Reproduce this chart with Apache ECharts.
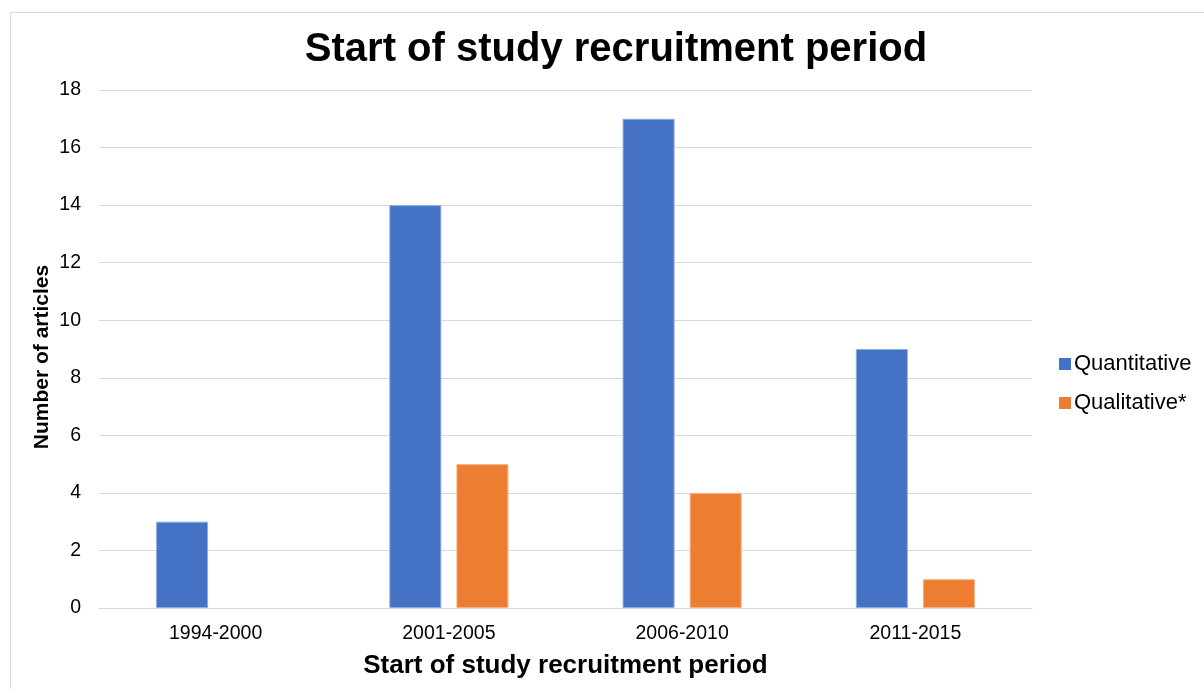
<!DOCTYPE html>
<html>
<head>
<meta charset="utf-8">
<script src="https://cdn.jsdelivr.net/npm/echarts@6/dist/echarts.min.js"></script>
<style>
  html, body { margin: 0; padding: 0; background: #fff; }
  #frame { position: absolute; left: 10px; top: 12px; width: 1210px; height: 700px; border: 1px solid #d9d9d9; box-sizing: border-box; }
  #chart { width: 1204px; height: 689px; position: absolute; left: 0; top: 0; }
</style>
</head>
<body>
<div id="frame"></div>
<div id="chart"></div>
<script>
// Recruitment start periods and article counts per study type
const periods = ['1994-2000', '2001-2005', '2006-2010', '2011-2015'];
const quantitative = [3, 14, 17, 9];
const qualitative = [0, 5, 4, 1];
const yTicks = { min: 0, max: 18, interval: 2 };

const font = '"Liberation Sans", Arial, sans-serif';
const chart = echarts.init(document.getElementById('chart'), null, { renderer: 'canvas' });

// zero-height bars get no outline so nothing shows on the baseline
const withOutline = (values) => values.map(v => v === 0 ? { value: v, itemStyle: { borderWidth: 0 } } : v);

chart.setOption({
  backgroundColor: 'transparent',
  animation: false,
  textStyle: { fontFamily: font },
  title: {
    text: 'Start of study recruitment period',
    left: 611, top: 25,
    textAlign: 'center',
    textStyle: { fontFamily: font, fontSize: 40, fontWeight: 'bold', color: '#000' }
  },
  legend: {
    orient: 'vertical',
    left: 1054, top: 348,
    itemWidth: 12, itemHeight: 12, itemGap: 17,
    icon: 'rect',
    itemStyle: { borderWidth: 0 },
    textStyle: { fontFamily: font, fontSize: 22, color: '#000', padding: [0, 0, 0, -2] },
    data: ['Quantitative', 'Qualitative*']
  },
  grid: { left: 99, right: 1204 - 1032, top: 90, bottom: 689 - 608, containLabel: false },
  xAxis: {
    type: 'category',
    data: periods,
    axisLine: { show: true, lineStyle: { color: '#d9d9d9', width: 1 } },
    axisTick: { show: false },
    axisLabel: { fontFamily: font, fontSize: 19.5, color: '#000', margin: 16 },
    name: 'Start of study recruitment period',
    nameLocation: 'middle',
    nameGap: 45,
    nameTextStyle: { fontFamily: font, fontSize: 26, fontWeight: 'bold', color: '#000' }
  },
  yAxis: {
    type: 'value',
    min: yTicks.min, max: yTicks.max, interval: yTicks.interval,
    axisLine: { show: false },
    axisTick: { show: false },
    splitLine: { lineStyle: { color: '#d9d9d9', width: 1 } },
    axisLabel: { fontFamily: font, fontSize: 19.5, color: '#000', margin: 18 }
  },
  graphic: [
    {
      type: 'text',
      x: 42, y: 357,
      rotation: Math.PI / 2,
      style: {
        text: 'Number of articles',
        font: 'bold 21px "Liberation Sans", Arial, sans-serif',
        fill: '#000',
        align: 'center',
        verticalAlign: 'middle'
      }
    }
  ],
  series: [
    {
      name: 'Quantitative',
      type: 'bar',
      data: withOutline(quantitative),
      barWidth: 52,
      barGap: '29%',
      itemStyle: { color: '#4472C4', borderColor: '#8faadc', borderWidth: 1 }
    },
    {
      name: 'Qualitative*',
      type: 'bar',
      data: withOutline(qualitative),
      barWidth: 52,
      itemStyle: { color: '#ED7D31', borderColor: '#f4b183', borderWidth: 1 }
    }
  ]
});
</script>
</body>
</html>
